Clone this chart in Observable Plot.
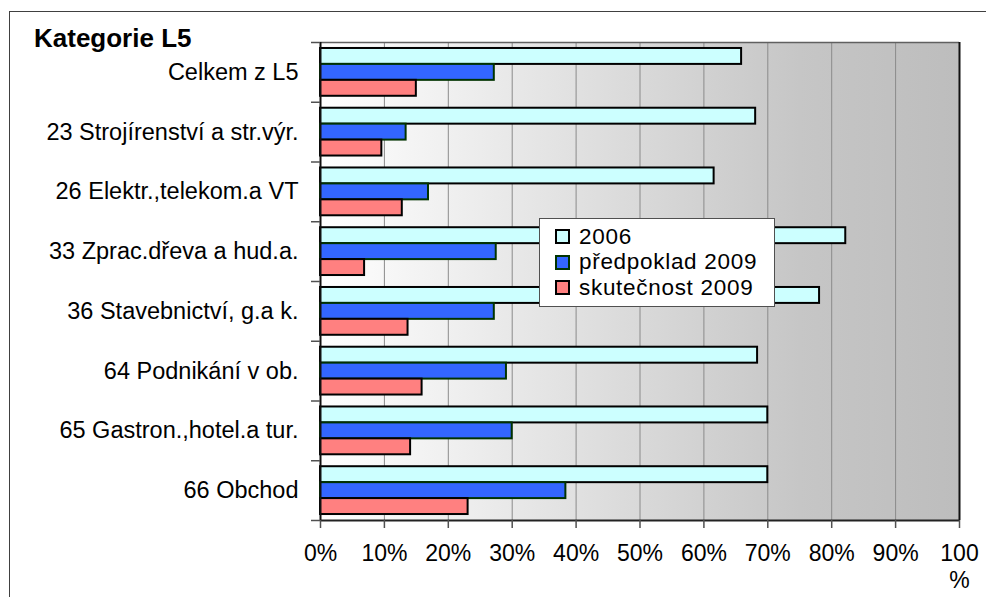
<!DOCTYPE html>
<html>
<head>
<meta charset="utf-8">
<script src="https://cdn.jsdelivr.net/npm/d3@7"></script>
<script src="https://cdn.jsdelivr.net/npm/@observablehq/plot@0.6"></script>
<style>
  html, body { margin: 0; padding: 0; background: #fff; overflow: hidden; }
  #wrap { position: relative; width: 986px; height: 597px; overflow: hidden; font-family: "Liberation Sans", Arial, sans-serif; }
  #border { position: absolute; left: 9px; top: 11px; width: 1100px; height: 800px; border: 1.5px solid #404040; box-sizing: border-box; }
  #title { position: absolute; left: 34px; top: 23px; font-size: 26px; font-weight: bold; color: #000; line-height: 30px; white-space: nowrap; }
  #chart { position: absolute; left: 0; top: 0; }
  #legend { position: absolute; left: 539px; top: 218px; width: 236px; height: 89px; background: #fff; border: 1.5px solid #505050; box-sizing: border-box; padding-top: 5px; }
  .item { display: flex; align-items: center; height: 25.5px; line-height: 24px; padding-left: 15px; font-size: 22.5px; color: #000; white-space: nowrap; letter-spacing: 0.7px; }
  .sw { width: 11px; height: 11px; border: 2px solid #000; margin-right: 9px; flex: none; }
</style>
</head>
<body>
<div id="wrap">
  <div id="border"></div>
  <div id="chart"></div>
  <div id="title"></div>
  <div id="legend"></div>
</div>
<script>
const titleText = "Kategorie L5";
const categories = [
  "Celkem z L5",
  "23 Strojírenství a str.výr.",
  "26 Elektr.,telekom.a VT",
  "33 Zprac.dřeva a hud.a.",
  "36 Stavebnictví, g.a k.",
  "64 Podnikání v ob.",
  "65 Gastron.,hotel.a tur.",
  "66 Obchod"
];
const seriesNames = ["2006", "předpoklad 2009", "skutečnost 2009"];
const values2006   = [0.659, 0.681, 0.616, 0.822, 0.781, 0.684, 0.700, 0.700];
const valuesPlan   = [0.272, 0.134, 0.169, 0.275, 0.272, 0.291, 0.300, 0.384];
const valuesActual = [0.150, 0.096, 0.128, 0.069, 0.137, 0.159, 0.141, 0.231];
const xTicks = [0, 0.1, 0.2, 0.3, 0.4, 0.5, 0.6, 0.7, 0.8, 0.9, 1];
const xTickLabels = ["0%", "10%", "20%", "30%", "40%", "50%", "60%", "70%", "80%", "90%", "100\n%"];
const fills = ["#CCFFFF", "#3366FF", "#FF8080"];
const strokes = ["#000000", "#003300", "#000000"];

// layout of a category band (in band units): outer gap and bar thickness
const bandGap = 0.1;
const barSize = (1 - 2 * bandGap) / 3;

const seriesValues = [values2006, valuesPlan, valuesActual];
const rows = [];
categories.forEach((c, i) => {
  seriesValues.forEach((vals, j) => {
    rows.push({cat: c, i, series: seriesNames[j], s: j, value: vals[i],
      y1: i + bandGap + j * barSize, y2: i + bandGap + (j + 1) * barSize});
  });
});

const font = "'Liberation Sans', Arial, sans-serif";
const bandCenters = categories.map((c, i) => i + 0.5);
const bandEdges = d3.range(categories.length + 1);

const chart = Plot.plot({
  width: 986,
  height: 597,
  marginLeft: 320,
  marginRight: 27,
  marginTop: 42,
  marginBottom: 77,
  style: {fontFamily: font, background: "transparent", color: "#000", overflow: "visible"},
  x: {domain: [0, 1], label: null},
  y: {domain: [categories.length, 0], label: null},
  color: {domain: seriesNames, range: fills},
  marks: [
    Plot.frame({fill: "url(#plotBg)", stroke: "none"}),
    Plot.gridX(xTicks.slice(1, -1), {stroke: "#8a8a8a", strokeOpacity: 1, strokeWidth: 1}),
    Plot.rectX(rows, {
      x1: () => 0, x2: "value", y1: "y1", y2: "y2",
      fill: "series",
      stroke: d => strokes[d.s],
      strokeWidth: 2
    }),
    Plot.ruleY([0], {stroke: "#606060", strokeWidth: 1.5}),
    Plot.ruleX([1], {stroke: "#111", strokeWidth: 2}),
    Plot.ruleX([0], {stroke: "#111", strokeWidth: 2}),
    Plot.ruleY([categories.length], {stroke: "#222", strokeWidth: 2}),
    Plot.axisY(bandEdges, {tickSize: 9, stroke: "#505050", strokeWidth: 1.5, fill: "none", label: null}),
    Plot.axisY(bandCenters, {
      tickSize: 0, tickPadding: 22, stroke: "none", label: null,
      tickFormat: d => categories[Math.floor(d)],
      fontSize: 23.5, fill: "#000"
    }),
    Plot.axisX(xTicks, {
      tickSize: 8, tickPadding: 14, stroke: "#505050", strokeWidth: 1.5, label: null,
      tickFormat: d => xTickLabels[xTicks.indexOf(d)],
      fontSize: 23, lineHeight: 1.15, fill: "#000"
    })
  ]
});

// horizontal background gradient for the plot area
const defs = document.createElementNS("http://www.w3.org/2000/svg", "defs");
defs.innerHTML = '<linearGradient id="plotBg" x1="0" y1="0" x2="1" y2="0">' +
  '<stop offset="0" stop-color="#ffffff"/>' +
  '<stop offset="0.75" stop-color="#c6c6c6"/>' +
  '<stop offset="1" stop-color="#bdbdbd"/></linearGradient>';
chart.insertBefore(defs, chart.firstChild);
document.getElementById("chart").appendChild(chart);

document.getElementById("title").textContent = titleText;

const legend = document.getElementById("legend");
seriesNames.forEach((name, j) => {
  const item = document.createElement("div");
  item.className = "item";
  const sw = document.createElement("span");
  sw.className = "sw";
  sw.style.background = fills[j];
  sw.style.borderColor = strokes[j];
  const label = document.createElement("span");
  label.textContent = name;
  item.appendChild(sw);
  item.appendChild(label);
  legend.appendChild(item);
});
</script>
</body>
</html>
